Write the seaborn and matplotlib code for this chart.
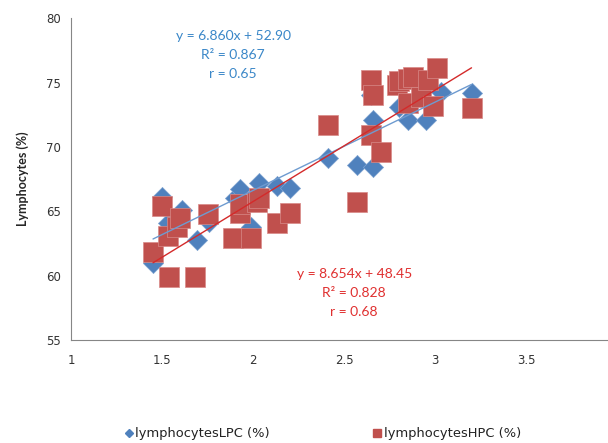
import numpy as np
import pandas as pd
import matplotlib
matplotlib.use("Agg")
import matplotlib.pyplot as plt
from matplotlib.lines import Line2D
import seaborn as sns

# LPC group (blue diamonds)
lpc_x = [1.45, 1.50, 1.53, 1.61, 1.69, 1.76, 1.90, 1.93, 1.99, 2.03, 2.13, 2.20,
         2.41, 2.57, 2.66, 2.66, 2.65, 2.80, 2.85, 2.95, 3.03, 3.20]
lpc_y = [61.0, 66.1, 64.1, 65.1, 62.8, 64.2, 66.0, 66.7, 63.8, 67.2, 67.0, 66.8,
         69.1, 68.6, 68.4, 72.1, 74.0, 73.1, 72.1, 72.1, 74.3, 74.2]

# HPC group (red squares)
hpc_x = [1.45, 1.50, 1.53, 1.54, 1.58, 1.60, 1.68, 1.75, 1.89, 1.93, 1.93, 1.99,
         2.02, 2.03, 2.13, 2.20, 2.41, 2.57, 2.65, 2.66, 2.65, 2.70, 2.79, 2.80,
         2.85, 2.88, 2.85, 2.92, 2.96, 2.99, 3.01, 3.20]
hpc_y = [61.8, 65.4, 63.1, 59.9, 63.8, 64.5, 59.9, 64.8, 62.9, 64.9, 65.6, 62.9,
         65.7, 66.0, 64.1, 64.9, 71.7, 65.7, 75.2, 74.0, 70.9, 69.6, 74.8, 75.1,
         75.3, 75.4, 73.4, 73.9, 75.2, 73.2, 76.1, 73.0]

# trend lines as printed on the chart
lpc_fit = (6.860, 52.90)
hpc_fit = (8.654, 48.45)
lpc_text = "y = 6.860x + 52.90\nR² = 0.867\nr = 0.65"
hpc_text = "y = 8.654x + 48.45\nR² = 0.828\nr = 0.68"

blue = "#4F81BD"
red = "#C0504D"

sns.set_style("white")
plt.rcParams["font.family"] = ["Lato", "DejaVu Sans"]

fig = plt.figure(figsize=(6.08, 4.43), dpi=100)
ax = fig.add_axes([0.117, 0.2325, 0.883, 0.7265])

lpc = pd.DataFrame({"x": lpc_x, "y": lpc_y})
hpc = pd.DataFrame({"x": hpc_x, "y": hpc_y})

sns.scatterplot(data=lpc, x="x", y="y", marker="D", s=105, color=blue,
                edgecolor="#7FA3D1", linewidth=0.5, ax=ax, zorder=2)
sns.scatterplot(data=hpc, x="x", y="y", marker="s", s=215, color=red,
                edgecolor="#D88A88", linewidth=0.5, ax=ax, zorder=3)

xs = np.array([min(lpc_x), max(lpc_x)])
ax.plot(xs, lpc_fit[0] * xs + lpc_fit[1], color="#6E9BD0", lw=1.0, zorder=4)
xs = np.array([min(hpc_x), max(hpc_x)])
ax.plot(xs, hpc_fit[0] * xs + hpc_fit[1], color="#D42A2A", lw=1.0, zorder=4)

ax.text(1.89, 79.1, lpc_text, color="#3A87C8", fontsize=10, ha="center",
        va="top", linespacing=1.7)
ax.text(2.555, 60.6, hpc_text, color="#E03030", fontsize=10, ha="center",
        va="top", linespacing=1.7)

ax.set_xlim(1, 3.95)
ax.set_ylim(55, 80)
ax.set_xticks([1, 1.5, 2, 2.5, 3, 3.5])
ax.set_xticklabels(["1", "1.5", "2", "2.5", "3", "3.5"])
ax.set_yticks([55, 60, 65, 70, 75, 80])
ax.set_xlabel("")
ax.set_ylabel("Lymphocytes (%)", fontsize=9, fontweight="bold", labelpad=12)

for s in ["top", "right"]:
    ax.spines[s].set_visible(False)
for s in ["left", "bottom"]:
    ax.spines[s].set_color("#868686")
    ax.spines[s].set_linewidth(0.8)
ax.tick_params(axis="both", direction="out", length=4, width=0.8,
               color="#868686", labelsize=9, labelcolor="#333333")
ax.tick_params(axis="x", pad=6)
for lab in ax.get_xticklabels() + ax.get_yticklabels():
    lab.set_family("DejaVu Sans")
    lab.set_fontsize(8.5)

handles = [
    Line2D([], [], marker="D", color=blue, ls="none", markersize=4.5),
    Line2D([], [], marker="s", color=red, ls="none", markersize=6),
]
fig.legend(handles, ["lymphocytesLPC (%)", "lymphocytesHPC (%)"],
           loc="lower center", bbox_to_anchor=(0.53, -0.02), ncol=2,
           frameon=False, prop={"family": "DejaVu Sans", "size": 9.4},
           columnspacing=7.8, handletextpad=0.1, handlelength=0.8,
           labelcolor="#222222")

fig.savefig("out.png", dpi=100)
